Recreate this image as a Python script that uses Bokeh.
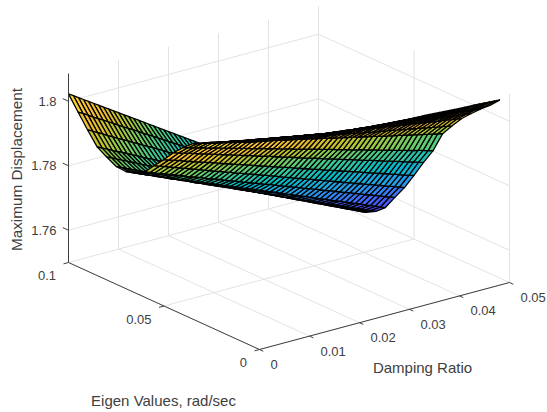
import numpy as np
from bokeh.plotting import figure
from bokeh.models import Range1d
from bokeh.core.properties import value
from bokeh.embed import file_html
from bokeh.resources import INLINE

damping = [0,.001,.002,.003,.004,.005,.006,.007,.008,.009,.01,.011,.012,.013,.014,.015,.016,.017,.018,.019,.02,.021,.022,.023,.024,.025,.026,.027,.028,.029,.03,.031,.032,.033,.034,.035,.036,.037,.038,.039,.04,.041,.042,.043,.044,.045,.046,.047,.048,.049,.05]
eigen = [0.1,0.095,0.09,0.085,0.08,0.075,0.07,0.065,0.06,0.055,0.05,0.045,0.04,0.035,0.03,0.025,0.02,0.015,0.01,0.005]
# maximum displacement, in units of 1e-4 above 1.7; one row per eigen value
z_base = 1.7
z_unit = 1e-4
z_rows = [
[1023,1013,1003,993,983,973,963,953,943,933,923,913,903,893,883,873,863,853,843,833,823,813,803,793,783,773,763,753,743,733,723,713,703,693,683,673,663,653,643,633,623,613,603,593,583,573,563,553,543,533,523],
[980,971,962,952,943,934,925,916,906,897,888,879,870,860,851,842,833,824,814,805,796,787,778,768,759,750,741,732,722,713,704,695,686,676,667,658,649,640,630,621,612,603,594,584,575,566,557,548,538,529,520],
[938,930,921,913,904,896,887,879,871,862,854,845,837,829,820,812,803,795,786,778,770,761,753,744,736,727,719,711,702,694,685,677,669,660,652,643,635,626,618,610,601,593,584,576,567,559,551,542,534,525,517],
[899,891,884,876,868,861,853,845,838,830,822,815,807,799,791,784,776,768,761,753,745,738,730,722,715,707,699,692,684,676,669,661,653,646,638,630,623,615,607,599,592,584,576,569,561,553,546,538,530,523,515],
[881,874,866,859,852,844,837,829,822,815,807,800,793,785,778,771,763,756,749,741,734,726,719,712,704,697,690,682,675,668,660,653,645,638,631,623,616,609,601,594,587,579,572,565,557,550,542,535,528,520,513],
[865,858,851,844,837,830,823,816,809,802,795,788,781,774,767,760,753,746,739,732,725,718,711,704,697,690,683,676,669,662,655,648,641,634,627,620,613,606,599,592,585,578,571,564,557,550,543,536,529,522,515],
[863,856,850,843,837,830,823,817,810,803,797,790,784,777,770,764,757,750,744,737,731,724,717,711,704,698,691,684,678,671,664,658,651,645,638,631,625,618,611,605,598,592,585,578,572,565,558,552,545,539,532],
[872,866,859,853,847,841,834,828,822,815,809,803,796,790,784,778,771,765,759,752,746,740,733,727,721,715,708,702,696,689,683,677,670,664,658,652,645,639,633,626,620,614,607,601,595,589,582,576,570,563,557],
[889,883,878,872,866,860,855,849,843,837,832,826,820,814,809,803,797,791,786,780,774,768,763,757,751,746,740,734,728,723,717,711,705,700,694,688,682,677,671,665,659,654,648,642,636,631,625,619,613,608,602],
[922,916,911,905,900,894,889,883,878,872,866,861,855,850,844,839,833,828,822,817,812,806,801,795,790,784,778,773,767,762,756,751,745,740,734,729,723,718,712,707,701,696,690,685,679,674,668,663,657,652,646],
[954,949,944,939,933,928,923,918,913,908,903,897,892,887,882,877,872,867,861,856,851,846,841,836,831,826,820,815,810,805,800,795,789,784,779,774,769,764,759,754,748,743,738,733,728,723,718,712,707,702,697],
[989,984,979,975,970,965,960,956,951,946,941,937,932,927,922,918,913,908,903,899,894,889,884,880,875,870,865,860,856,851,846,841,837,832,827,822,818,813,808,803,799,794,789,784,780,775,770,765,761,756,751],
[1018,1014,1009,1005,1001,996,992,988,983,979,975,970,966,962,957,953,949,944,940,936,931,927,923,918,914,910,905,901,896,892,888,883,879,875,870,866,862,857,853,849,844,840,836,831,827,823,818,814,810,805,801],
[1044,1040,1037,1033,1030,1026,1023,1019,1016,1012,1009,1005,1002,998,994,991,987,984,980,977,973,970,966,963,959,956,952,948,945,941,938,934,931,927,924,920,917,913,909,906,902,899,895,892,888,885,881,878,874,871,867],
[1059,1056,1053,1049,1046,1043,1040,1036,1033,1030,1027,1023,1020,1017,1014,1011,1008,1004,1001,998,994,991,988,985,982,979,977,974,971,968,965,962,958,956,952,949,947,944,941,938,935,932,929,926,923,920,917,914,911,908,905],
[1073,1070,1067,1064,1061,1058,1055,1052,1049,1047,1044,1041,1038,1035,1032,1029,1026,1023,1020,1017,1014,1012,1009,1007,1005,1002,1000,997,995,993,990,988,985,983,980,978,975,973,971,968,966,963,961,958,956,953,951,949,946,944,941],
[1087,1084,1081,1079,1076,1073,1070,1067,1065,1062,1059,1056,1054,1051,1048,1045,1042,1040,1037,1034,1031,1029,1027,1025,1023,1021,1019,1017,1015,1013,1011,1009,1007,1005,1003,1000,998,996,994,992,990,988,986,984,982,980,978,976,974,972,970],
[1101,1098,1096,1093,1090,1088,1085,1082,1080,1077,1074,1072,1069,1066,1064,1061,1058,1056,1053,1050,1048,1046,1044,1043,1041,1039,1038,1036,1034,1033,1031,1029,1028,1026,1024,1023,1021,1019,1018,1016,1014,1013,1011,1009,1008,1006,1005,1003,1001,1000,998],
[1115,1112,1110,1107,1105,1102,1099,1097,1094,1092,1089,1087,1084,1081,1079,1076,1074,1071,1068,1066,1063,1062,1060,1059,1058,1056,1055,1054,1052,1051,1050,1048,1047,1046,1044,1043,1042,1040,1039,1038,1036,1035,1034,1032,1031,1030,1028,1027,1026,1024,1023],
[1128,1126,1123,1121,1118,1116,1114,1111,1109,1106,1104,1102,1099,1097,1094,1092,1090,1087,1085,1082,1080,1079,1078,1077,1076,1076,1075,1074,1073,1072,1071,1070,1069,1068,1067,1067,1066,1065,1064,1063,1062,1061,1060,1059,1058,1058,1057,1056,1055,1054,1053],
]
Z = [[z_base+v*z_unit for v in r] for r in z_rows]
x_ticks=[0,0.01,0.02,0.03,0.04,0.05]; x_labels=["0","0.01","0.02","0.03","0.04","0.05"]
y_ticks=[0,0.05,0.1]; y_labels=["0","0.05","0.1"]
z_ticks=[1.76,1.78,1.8]; z_labels=["1.76","1.78","1.8"]
parula=[(.2422,.1504,.6603),(.2706,.2147,.8364),(.2810,.3228,.9579),(.2602,.4123,.9952),(.1786,.5289,.9682),(.1460,.6091,.9079),(.0952,.6798,.8598),(.0067,.7312,.7660),(.1717,.7670,.6554),(.2906,.7973,.5188),(.5044,.7993,.3480),(.7242,.7698,.1910),(.9035,.7330,.1774),(.9970,.7659,.2199),(.9676,.8639,.1643),(.9628,.9373,.1265),(.9769,.9839,.0805)]
ZMIN,ZMAX=1.75,1.8086

def px(x,y): return 259+5000*x-1910*y
def py(x,y,z): return 349-1340*x-870*y-3225*(z-ZMIN)
def col(z):
    t=min(max((z-ZMIN)/(ZMAX-ZMIN),0),1)*(len(parula)-1)
    i=min(int(t),len(parula)-2); f=t-i
    c=[int(255*(parula[i][k]+(parula[i+1][k]-parula[i][k])*f)) for k in range(3)]
    return "#%02x%02x%02x"%tuple(c)

p=figure(width=547,height=412,x_range=Range1d(0,547),y_range=Range1d(412,0),output_backend="svg",toolbar_location=None,min_border=0)
p.axis.visible=False; p.grid.visible=False; p.outline_line_color=None

def seg(pts,c,w=1):
    p.line([a[0] for a in pts],[a[1] for a in pts],line_color=c,line_width=w)
def P(x,y,z): return (px(x,y),py(x,y,z))
G="#e3e3e3"
for x in x_ticks:
    seg([P(x,0,ZMIN),P(x,0.1,ZMIN),P(x,0.1,ZMAX)],G)
for y in y_ticks:
    seg([P(0,y,ZMIN),P(0.05,y,ZMIN),P(0.05,y,ZMAX)],G)
for z in z_ticks:
    seg([P(0,0.1,z),P(0.05,0.1,z),P(0.05,0,z)],G)

xs,ys,cs=[],[],[]
n=len(damping)
for j in range(len(eigen)-1):
    for i in range(n-2,-1,-1):
        idx=[(j,i),(j,i+1),(j+1,i+1),(j+1,i)]
        xs.append([px(damping[b],eigen[a]) for a,b in idx])
        ys.append([py(damping[b],eigen[a],Z[a][b]) for a,b in idx])
        cs.append(col(np.mean([Z[a][b] for a,b in idx])))
p.patches(xs,ys,fill_color=cs,line_color="black",line_width=1.3)

A="#404040"
seg([P(0,0.1,ZMAX),P(0,0.1,ZMIN),P(0,0,ZMIN),P(0.05,0,ZMIN)],A)
for x in x_ticks: seg([P(x,0,ZMIN),P(x,-0.002,ZMIN)],A)
for y in y_ticks: seg([P(0,y,ZMIN),P(-0.001,y,ZMIN)],A)
for z in z_ticks: seg([P(0,0.1,z),P(0,0.103,z)],A)

def txt(x,y,s,size,align="center",angle=0):
    p.text([x],[y],text=[s],text_font=value("Liberation Sans"),text_font_size=size,text_color=A,text_align=align,text_baseline="middle",angle=angle)
for v,s in zip(x_ticks,x_labels):
    txt(px(v,0)+11,py(v,0,ZMIN)+15,s,"13px","left")
for v,s in zip(y_ticks,y_labels):
    txt(px(0,v)-12.5,py(0,v,ZMIN)+13,s,"13px","right")
for v,s in zip(z_ticks,z_labels):
    txt(56,py(0,0.1,v),s,"13px","right")
txt(422,367,"Damping Ratio","15px")
txt(163,400,"Eigen Values, rad/sec","15px")
txt(16,169,"Maximum Displacement","15.3px","center",np.pi/2)
open("out.html","w").write(file_html(p,INLINE))
